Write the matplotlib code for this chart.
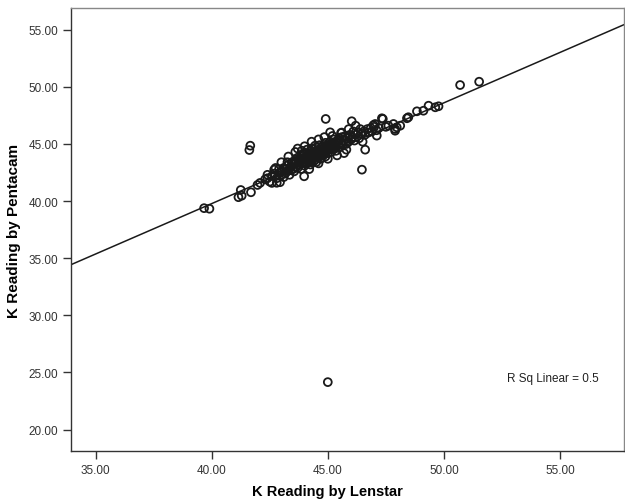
import numpy as np
import matplotlib
matplotlib.use("Agg")
import matplotlib.pyplot as plt

plt.rcParams['font.family'] = ['Liberation Sans', 'DejaVu Sans']

# Lenstar (x) vs Pentacam (y) K readings
lenstar = [
    39.67, 39.90, 41.15, 41.29, 41.25, 41.69, 41.66, 41.62,
    41.97, 42.08, 42.40, 42.59, 42.94, 42.69, 42.94,
    43.26, 43.59, 43.88, 43.98, 44.45, 44.91, 46.03, 45.10, 45.57,
    46.61, 46.47, 46.97, 47.11, 47.04, 47.33, 47.90,
    42.3, 42.4, 42.5, 42.6, 42.7, 42.8, 42.9, 43.0, 43.0, 42.75,
    43.1, 43.1, 43.2, 43.25, 43.3, 43.35, 43.4, 43.45, 43.5, 43.5,
    43.55, 43.6, 43.65, 43.7, 43.7, 43.75, 43.8, 43.85, 43.9, 43.9, 43.95, 44.0, 44.0, 44.0,
    44.05, 44.1, 44.1, 44.15, 44.2, 44.2, 44.25, 44.3, 44.3, 44.35, 44.4, 44.4, 44.45, 44.5, 44.5, 44.5,
    44.55, 44.6, 44.6, 44.65, 44.7, 44.7, 44.75, 44.8, 44.8, 44.85, 44.9, 44.9, 44.95, 45.0, 45.0,
    45.05, 45.1, 45.15, 45.2, 45.25, 45.3, 45.3, 45.35, 45.4, 45.45, 45.5, 45.5,
    45.55, 45.6, 45.65, 45.7, 45.75, 45.8, 45.85, 45.9, 45.95, 46.0,
    46.05, 46.1, 46.15, 46.2, 46.3, 46.35, 46.4, 46.45,
    46.55, 46.6, 46.7, 46.75, 46.85, 46.9,
    47.0, 47.1, 47.2, 47.37, 47.5, 47.61, 47.83, 47.9, 47.97, 48.12,
    48.41, 48.47, 48.84, 49.12, 49.34, 49.63, 49.77, 50.70, 51.52,
    43.6, 43.8, 43.9, 44.0, 44.1, 44.15, 44.2, 44.3, 44.35, 44.4, 44.45, 44.55, 44.6,
    44.65, 44.7, 44.8, 44.85, 44.95, 45.05, 45.1, 45.2, 45.3, 45.4, 44.25, 44.05, 43.95,
    43.75, 43.85, 44.45, 44.75, 44.9, 45.15, 45.25, 43.65, 43.55, 43.4, 43.2, 43.15,
    43.3, 43.6, 44.0, 44.3, 44.6, 44.2, 44.6, 45.0, 45.4, 45.8,
    45.2, 45.6, 46.2, 46.5, 43.0, 42.8, 45.9, 44.85, 43.7, 45.7,
    45.00,
]
pentacam = [
    39.38, 39.33, 40.34, 40.47, 40.97, 40.77, 44.85, 44.47,
    41.41, 41.59, 42.00, 41.59, 41.65, 42.75, 42.52,
    43.40, 43.45, 44.41, 42.17, 44.85, 47.19, 46.99, 46.02, 45.96,
    44.50, 42.75, 46.66, 45.73, 46.75, 47.25, 46.16,
    41.9, 42.3, 41.7, 42.2, 42.4, 42.0, 42.8, 42.3, 42.6, 42.9,
    42.1, 42.9, 42.5, 43.1, 42.7, 42.3, 43.0, 43.4, 42.8, 43.2,
    42.6, 43.0, 43.5, 42.9, 43.8, 43.2, 43.6, 42.8, 43.3, 44.0, 43.7, 43.1, 43.5, 44.2,
    43.8, 43.3, 44.5, 43.9, 43.6, 44.2, 43.2, 43.8, 44.6, 44.0, 43.5, 44.3, 43.9, 44.1, 43.4, 44.7,
    43.8, 44.3, 44.0, 44.9, 43.7, 44.5, 44.2, 44.0, 44.8, 44.4, 43.9, 45.1, 44.6, 44.2, 44.9,
    44.5, 45.2, 44.3, 44.8, 45.4, 44.6, 45.0, 44.4, 45.3, 44.9, 45.5, 44.7,
    45.1, 45.6, 44.9, 45.3, 45.7, 45.0, 45.5, 45.2, 45.8, 45.4,
    45.6, 46.1, 45.3, 45.8, 46.0, 45.5, 46.3, 45.9,
    46.1, 45.8, 46.3, 46.0, 46.4, 46.1,
    46.5, 46.2, 46.4, 47.19, 46.5, 46.6, 46.75, 46.31, 46.46, 46.6,
    47.25, 47.34, 47.86, 47.91, 48.35, 48.21, 48.30, 50.16, 50.45,
    43.3, 43.4, 43.6, 43.8, 43.9, 43.5, 44.0, 43.4, 44.3, 43.8, 44.2, 44.1, 44.5,
    43.9, 44.3, 44.6, 44.1, 44.4, 44.8, 44.6, 45.0, 44.8, 45.1, 44.4, 43.4, 44.1,
    43.6, 43.9, 43.6, 44.7, 44.3, 44.9, 44.6, 43.0, 43.4, 42.7, 42.8, 42.4,
    43.9, 44.3, 44.8, 45.2, 45.4, 42.8, 43.3, 43.7, 44.0, 44.5,
    45.7, 46.0, 46.6, 45.2, 43.4, 41.6, 46.3, 45.6, 44.6, 44.2,
    24.15,
]

# fit line as drawn on the chart
fit_intercept = 4.50
fit_slope = 0.882
r_sq = 0.5

xlim = (33.92, 57.75)
ylim = (18.12, 56.9)
xticks = [35, 40, 45, 50, 55]
yticks = [20, 25, 30, 35, 40, 45, 50, 55]

fig = plt.figure(figsize=(6.25, 5.02), dpi=100)
ax = fig.add_axes([0.113, 0.0996, 0.885, 0.8824])

ax.scatter(lenstar, pentacam, s=32, facecolors='none', edgecolors='#1a1a1a',
           linewidths=1.3, zorder=3)

xs = np.array(xlim)
ax.plot(xs, fit_intercept + fit_slope * xs, color='#1a1a1a', linewidth=1.1, zorder=2)

ax.set_xlim(*xlim)
ax.set_ylim(*ylim)
ax.set_xticks(xticks)
ax.set_yticks(yticks)
ax.set_xticklabels(['{:.2f}'.format(v) for v in xticks])
ax.set_yticklabels(['{:.2f}'.format(v) for v in yticks])
ax.tick_params(direction='out', length=6, width=1, color='#333333',
               labelsize=8.5, labelcolor='#333333', pad=3)

for side in ['left', 'bottom']:
    ax.spines[side].set_color('#333333')
    ax.spines[side].set_linewidth(1.0)
for side in ['top', 'right']:
    ax.spines[side].set_color('#888888')
    ax.spines[side].set_linewidth(1.0)

ax.set_xlabel('K Reading by Lenstar', fontsize=10.5, fontweight='bold', labelpad=6)
ax.xaxis.label.set_x(0.465)
ax.set_ylabel('K Reading by Pentacam', fontsize=11, fontweight='bold', labelpad=5)

ax.text(0.955, 0.165, 'R Sq Linear = {}'.format(r_sq), transform=ax.transAxes,
        fontsize=8.5, color='#222222', ha='right', va='center')

fig.savefig('out.png', dpi=100)
